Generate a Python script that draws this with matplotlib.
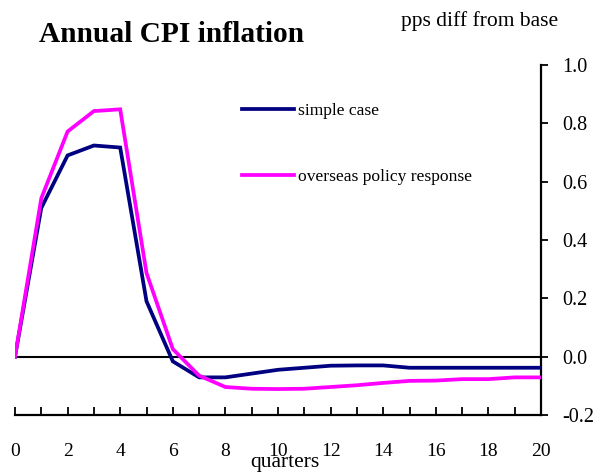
import matplotlib
matplotlib.use("Agg")
import matplotlib.pyplot as plt
import numpy as np
from matplotlib.ticker import MultipleLocator, FormatStrFormatter

plt.rcParams["font.family"] = ["Liberation Serif", "DejaVu Serif"]

QUARTERS = list(range(21))
SIMPLE_CASE = [0.0, 0.51, 0.69, 0.724, 0.717, 0.19, -0.016, -0.071, -0.071, -0.058, -0.045,
               -0.038, -0.031, -0.030, -0.030, -0.038, -0.038, -0.038, -0.038, -0.038, -0.038]
OVERSEAS = [0.0, 0.543, 0.772, 0.842, 0.848, 0.287, 0.026, -0.065, -0.104, -0.110, -0.111,
            -0.110, -0.104, -0.098, -0.090, -0.083, -0.082, -0.077, -0.077, -0.071, -0.071]
SERIES_LABELS = ["simple case", "overseas policy response"]
COLORS = ["#000080", "#ff00ff"]


fig = plt.figure(figsize=(5.96, 4.73), dpi=100)
W, H = 596, 473
ax = fig.add_axes([15 / W, 1 - 415 / H, 526 / W, 350 / H])

ax.axhline(0, color="black", lw=1.5, zorder=1)
for y, lab, col in zip([SIMPLE_CASE, OVERSEAS], SERIES_LABELS, COLORS):
    ax.plot(QUARTERS, y, color=col, lw=2.7, label=lab, zorder=3, solid_joinstyle="miter")

ax.set_xlim(0, 20)
ax.set_ylim(-0.2, 1.0)

for side in ["top", "left"]:
    ax.spines[side].set_visible(False)
for side in ["bottom", "right"]:
    ax.spines[side].set_linewidth(1.6)

ax.xaxis.set_major_locator(MultipleLocator(2))
ax.xaxis.set_minor_locator(MultipleLocator(1))
ax.tick_params(axis="x", which="both", direction="in", length=5.5, width=1.3,
               labelsize=14, pad=20)
ax.yaxis.tick_right()
ax.yaxis.set_major_locator(MultipleLocator(0.2))
ax.yaxis.set_major_formatter(FormatStrFormatter("%.1f"))
ax.tick_params(axis="y", direction="out", length=5, width=1.3, labelsize=14.5, pad=10)

fig.text(39 / W, 1 - 42 / H, "Annual CPI inflation", fontsize=21.2, fontweight="bold",
         ha="left", va="baseline")
fig.text(401 / W, 1 - 26 / H, "pps diff from base", fontsize=15.5, ha="left", va="baseline")
# sits just under the tick labels, overlapping "10" as in the original
fig.text(284.5 / W, 1 - 467 / H, "quarters", fontsize=15.5, ha="center", va="baseline")

ax.legend(loc="upper left", bbox_to_anchor=(242 / W, 1 - 103 / H),
          bbox_transform=fig.transFigure, frameon=False, fontsize=12.6,
          handlelength=2.95, handletextpad=0.25, labelspacing=2.85,
          borderpad=0, borderaxespad=0)

fig.savefig("out.png", dpi=100)
